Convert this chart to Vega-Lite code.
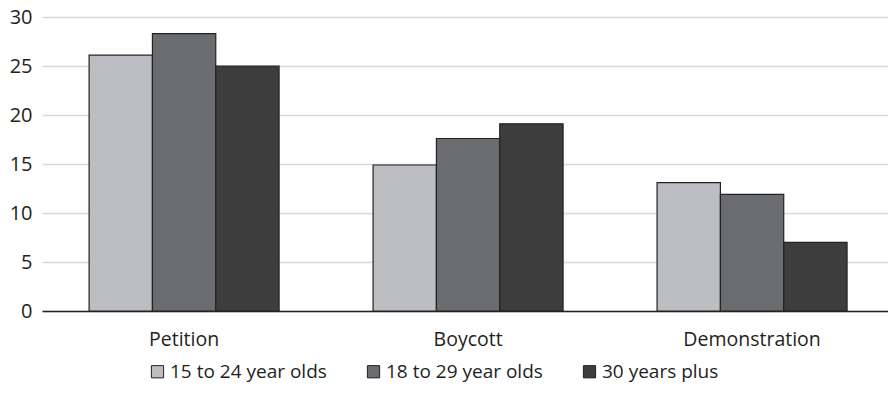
{
  "$schema": "https://vega.github.io/schema/vega-lite/v6.json",
  "autosize": {"type": "none"},
  "width": 846,
  "height": 294,
  "padding": {"left": 42, "top": 17, "right": 0, "bottom": 90},
  "background": "white",
  "data": {
    "values": [
      {"activity": "Petition", "group": "15 to 24 year olds", "value": 26.1},
      {"activity": "Petition", "group": "18 to 29 year olds", "value": 28.3},
      {"activity": "Petition", "group": "30 years plus", "value": 25.0},
      {"activity": "Boycott", "group": "15 to 24 year olds", "value": 14.9},
      {"activity": "Boycott", "group": "18 to 29 year olds", "value": 17.6},
      {"activity": "Boycott", "group": "30 years plus", "value": 19.1},
      {"activity": "Demonstration", "group": "15 to 24 year olds", "value": 13.1},
      {"activity": "Demonstration", "group": "18 to 29 year olds", "value": 11.9},
      {"activity": "Demonstration", "group": "30 years plus", "value": 7.0}
    ]
  },
  "mark": {"type": "bar", "stroke": "#222222", "strokeWidth": 1.2},
  "encoding": {
    "x": {
      "field": "activity", "type": "nominal",
      "sort": ["Petition", "Boycott", "Demonstration"],
      "scale": {"paddingInner": 0.331, "paddingOuter": 0.155, "align": 0.535},
      "axis": {
        "title": null, "labelAngle": 0, "ticks": false,
        "domainColor": "#222222", "domainWidth": 1.3,
        "labelFont": "Open Sans", "labelFontSize": 19.5, "labelColor": "#231f20",
        "labelPadding": 19
      }
    },
    "xOffset": {"field": "group", "type": "nominal", "scale": {"paddingInner": 0, "paddingOuter": 0}},
    "y": {
      "field": "value", "type": "quantitative",
      "scale": {"domain": [0, 30]},
      "axis": {
        "title": null, "values": [0, 5, 10, 15, 20, 25, 30], "domain": false, "ticks": false,
        "gridColor": "#d9d9d9", "gridWidth": 1.3,
        "labelFont": "Open Sans", "labelFontSize": 20, "labelColor": "#231f20",
        "labelPadding": 10
      }
    },
    "fill": {
      "field": "group", "type": "nominal",
      "scale": {
        "domain": ["15 to 24 year olds", "18 to 29 year olds", "30 years plus"],
        "range": ["#bdbec2", "#6b6c70", "#3d3d3d"]
      },
      "legend": {
        "title": null, "orient": "none", "direction": "horizontal",
        "legendX": 106, "legendY": 345,
        "symbolType": "square", "symbolSize": 150, "symbolStrokeColor": "#222222",
        "symbolStrokeWidth": 1, "symbolOpacity": 1,
        "labelFont": "Open Sans", "labelFontSize": 19, "labelColor": "#231f20",
        "labelOffset": 3, "columnPadding": 37
      }
    }
  },
  "config": {"view": {"stroke": null}}
}
